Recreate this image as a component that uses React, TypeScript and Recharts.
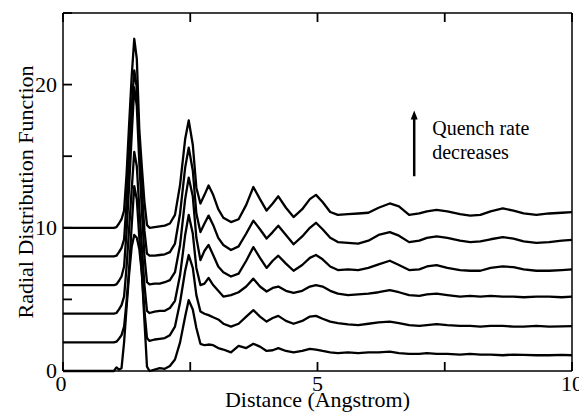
import React from "react";
import { LineChart, Line, XAxis, YAxis, Label, ReferenceLine } from "recharts";

// distance grid (Angstrom), shared by all six curves
const R = [
  0, 1.0, 1.05, 1.1, 1.15, 1.2, 1.25, 1.3, 1.35, 1.4,
  1.45, 1.5, 1.55, 1.6, 1.65, 1.7, 1.8, 1.9, 2.0, 2.1,
  2.2, 2.3, 2.4, 2.47, 2.55, 2.62, 2.7, 2.78, 2.86, 2.95,
  3.05, 3.15, 3.3, 3.45, 3.6, 3.74, 3.87, 4.0, 4.12, 4.23,
  4.38, 4.53, 4.7, 4.85, 4.97, 5.1, 5.25, 5.4, 5.6, 5.8,
  6.0, 6.2, 6.42, 6.6, 6.8, 7.0, 7.15, 7.34, 7.55, 7.8,
  8.0, 8.2, 8.4, 8.64, 8.85, 9.05, 9.3, 9.55, 9.8, 10.0,
];

// g(r) curves, already shifted by 0, 2, 4, ... (bottom = fastest quench)
const G0 = [
  0, 0, 0.25, 0.1, 0.2, 2.0, 4.5, 6.8, 8.7, 9.5,
  9.3, 8.5, 6.8, 3.5, 0.3, 0.0, 0.1, 0.2, 0.15, 0.35,
  0.8, 2.0, 3.8, 4.95, 4.3, 3.0, 1.9, 1.8, 1.85, 1.8,
  1.6, 1.5, 1.3, 1.75, 1.6, 1.9, 1.7, 1.4, 1.45, 1.6,
  1.4, 1.3, 1.4, 1.55, 1.5, 1.4, 1.3, 1.25, 1.3, 1.25,
  1.3, 1.3, 1.35, 1.25, 1.2, 1.2, 1.25, 1.2, 1.2, 1.15,
  1.2, 1.15, 1.15, 1.1, 1.15, 1.12, 1.1, 1.1, 1.12, 1.1,
];
const G2 = [
  2, 2, 2.05, 2.25, 2.5, 3.1, 4.9, 7.2, 10.2, 12.9,
  12.0, 9.3, 6.8, 4.2, 2.3, 2.1, 2.2, 2.25, 2.3, 2.5,
  3.1, 4.8, 7.0, 8.1, 7.2, 5.3, 4.15, 4.0, 3.9, 3.75,
  3.6, 3.3, 3.1, 3.3, 3.8, 4.25, 3.8, 3.45, 3.7, 3.85,
  3.5, 3.3, 3.5, 3.8, 3.85, 3.65, 3.45, 3.35, 3.25, 3.2,
  3.3, 3.4, 3.45, 3.35, 3.2, 3.15, 3.2, 3.27, 3.2, 3.15,
  3.15, 3.1, 3.15, 3.15, 3.1, 3.1, 3.15, 3.1, 3.12, 3.13,
];
const G4 = [
  4, 4, 4.05, 4.3, 4.6, 5.2, 7.3, 10.0, 12.7, 15.3,
  14.3, 11.3, 8.6, 6.0, 4.2, 4.05, 4.15, 4.2, 4.2, 4.4,
  4.9, 6.7, 9.5, 10.9, 9.6, 7.2, 6.0, 6.1, 6.5, 6.0,
  5.6, 5.2, 5.3, 5.5, 5.9, 6.45, 5.9, 5.55, 5.8, 5.9,
  5.6, 5.45, 5.6, 5.9, 6.0, 5.9, 5.6, 5.4, 5.3, 5.35,
  5.4, 5.5, 5.65, 5.5, 5.3, 5.25, 5.35, 5.4, 5.3, 5.2,
  5.25, 5.2, 5.25, 5.2, 5.2, 5.15, 5.2, 5.2, 5.15, 5.2,
];
const G6 = [
  6, 6, 6.05, 6.3, 6.6, 7.3, 9.8, 13.0, 16.5, 19.8,
  18.5, 14.5, 11.2, 8.0, 6.2, 6.05, 6.1, 6.1, 6.2, 6.35,
  6.9, 8.8, 12.0, 13.5, 12.2, 9.3, 7.75, 8.4, 8.8, 8.1,
  7.3, 6.9, 6.6, 6.8, 7.7, 8.65, 7.9, 7.2, 7.7, 8.05,
  7.5, 7.0, 7.4, 7.9, 8.1, 7.8, 7.3, 7.05, 7.1, 7.05,
  7.2, 7.45, 7.7, 7.4, 7.05, 7.1, 7.3, 7.4, 7.2, 7.05,
  7.0, 7.0, 7.2, 7.3, 7.25, 7.1, 7.0, 7.0, 7.05, 7.1,
];
const G8 = [
  8, 8, 8.05, 8.3, 8.6, 9.2, 11.8, 15.2, 18.4, 21.0,
  19.8, 15.8, 12.6, 9.8, 8.2, 8.05, 8.05, 8.1, 8.15, 8.3,
  8.9, 11.0, 14.2, 15.6, 14.0, 11.0, 9.7, 10.3, 10.85, 10.2,
  9.3, 8.8, 8.45, 8.7, 9.6, 10.5, 9.9, 9.25, 9.7, 10.15,
  9.5, 8.85, 9.4, 10.0, 10.35, 9.9, 9.3, 9.0, 8.95, 8.9,
  9.1, 9.5, 9.7, 9.45, 9.0, 9.1, 9.3, 9.4, 9.3, 9.1,
  9.0, 9.05, 9.2, 9.35, 9.25, 9.05, 8.95, 9.0, 9.1, 9.15,
];
const G10 = [
  10, 10, 10.05, 10.3, 10.6, 11.2, 13.8, 17.3, 20.6, 23.2,
  21.8, 16.8, 14.2, 11.8, 10.2, 10.0, 10.05, 10.1, 10.15, 10.3,
  10.9, 13.0, 16.2, 17.5, 15.8, 12.8, 11.7, 12.3, 12.95, 12.3,
  11.3, 10.7, 10.4, 10.6, 11.6, 12.85, 12.0, 11.2, 11.7, 12.2,
  11.4, 10.75, 11.3, 12.0, 12.3, 11.8, 11.1, 10.9, 10.95, 11.0,
  11.05, 11.4, 11.7, 11.5, 10.9, 11.0, 11.15, 11.25, 11.15, 10.95,
  10.85, 10.9, 11.15, 11.35, 11.2, 11.0, 10.9, 11.0, 11.05, 11.1,
];

const SERIES = ["g0", "g2", "g4", "g6", "g8", "g10"];
const X_TICKS = [0, 2.5, 5, 7.5, 10];
const X_LABELS = [0, 5, 10];
const Y_TICKS = [0, 5, 10, 15, 20, 25];
const Y_LABELS = [0, 10, 20];
const X_MAX = 10;
const Y_MAX = 25;

const data = R.map((r, i) => ({
  r,
  g0: G0[i],
  g2: G2[i],
  g4: G4[i],
  g6: G6[i],
  g8: G8[i],
  g10: G10[i],
}));

const FONT = "'Liberation Serif', 'Times New Roman', serif";
const AXIS_LINE = { stroke: "#000", strokeWidth: 1.5 };
const TICK_LINE = { stroke: "#000", strokeWidth: 1.8 };

// negative tickSize turns recharts' own tick lines inward; tickMargin 9 puts x/y back on the axis line
function BottomLabel({ x, y, payload }: any) {
  const v = payload.value;
  if (!X_LABELS.includes(v)) return <g />;
  return (
    <text x={v === 0 ? x - 2 : x} y={y + 20} textAnchor="middle" fontFamily={FONT} fontSize={22} fill="#000">
      {v}
    </text>
  );
}

function LeftLabel({ x, y, payload }: any) {
  const v = payload.value;
  if (!Y_LABELS.includes(v)) return <g />;
  return (
    <text x={x - 6} y={y + 7} textAnchor="end" fontFamily={FONT} fontSize={22} fill="#000">
      {v}
    </text>
  );
}

function NoLabel() {
  return <g />;
}

function QuenchArrow({ x1, y1, y2 }: any) {
  const top = Math.min(y1, y2);
  const bottom = Math.max(y1, y2);
  return (
    <g>
      <line x1={x1} y1={bottom} x2={x1} y2={top + 6} stroke="#000" strokeWidth={2.5} />
      <polygon points={`${x1},${top} ${x1 - 3.5},${top + 9} ${x1 + 3.5},${top + 9}`} fill="#000" />
      <text x={x1 + 18} y={top + 25} fontFamily={FONT} fontSize={20} fill="#000">
        Quench rate
      </text>
      <text x={x1 + 18} y={top + 49} fontFamily={FONT} fontSize={20} fill="#000">
        decreases
      </text>
    </g>
  );
}

export default function App() {
  return (
    <div style={{ width: 579, height: 408, background: "#fff" }}>
      <LineChart width={579} height={408} data={data} margin={{ top: 4, right: 14, bottom: 0, left: 0 }}>
        <XAxis
          dataKey="r"
          type="number"
          domain={[0, X_MAX]}
          ticks={X_TICKS}
          interval={0}
          height={45}
          tickSize={-9}
          tickMargin={9}
          tickLine={TICK_LINE}
          tick={<BottomLabel />}
          axisLine={AXIS_LINE}
        >
          <Label value="Distance (Angstrom)" position="insideBottom" offset={9} fontFamily={FONT} fontSize={22} fill="#000" />
        </XAxis>
        <XAxis
          xAxisId="top"
          orientation="top"
          dataKey="r"
          type="number"
          domain={[0, X_MAX]}
          ticks={X_TICKS}
          interval={0}
          height={1}
          tickSize={-9}
          tickMargin={0}
          tickLine={TICK_LINE}
          tick={<NoLabel />}
          axisLine={AXIS_LINE}
        />
        <YAxis
          type="number"
          domain={[0, Y_MAX]}
          ticks={Y_TICKS}
          interval={0}
          width={55}
          tickSize={-9}
          tickMargin={9}
          tickLine={TICK_LINE}
          tick={<LeftLabel />}
          axisLine={AXIS_LINE}
        >
          <Label
            content={({ viewBox }: any) => (
              <text
                x={viewBox.x + 17}
                y={viewBox.y + viewBox.height / 2}
                transform={`rotate(-90, ${viewBox.x + 17}, ${viewBox.y + viewBox.height / 2})`}
                textAnchor="middle"
                dominantBaseline="central"
                fontFamily={FONT}
                fontSize={22}
                fill="#000"
              >
                Radial Distribution Function
              </text>
            )}
          />
        </YAxis>
        <YAxis
          yAxisId="right"
          orientation="right"
          type="number"
          domain={[0, Y_MAX]}
          ticks={Y_TICKS}
          interval={0}
          width={1}
          tickSize={-9}
          tickMargin={0}
          tickLine={TICK_LINE}
          tick={<NoLabel />}
          axisLine={AXIS_LINE}
        />
        {SERIES.map((k) => (
          <Line
            key={k}
            dataKey={k}
            type="linear"
            stroke="#000"
            strokeWidth={2.3}
            strokeLinejoin="round"
            dot={false}
            activeDot={false}
            isAnimationActive={false}
          />
        ))}
        <ReferenceLine
          segment={[
            { x: 6.9, y: 13.6 },
            { x: 6.9, y: 18.2 },
          ]}
          shape={<QuenchArrow />}
        />
      </LineChart>
    </div>
  );
}
